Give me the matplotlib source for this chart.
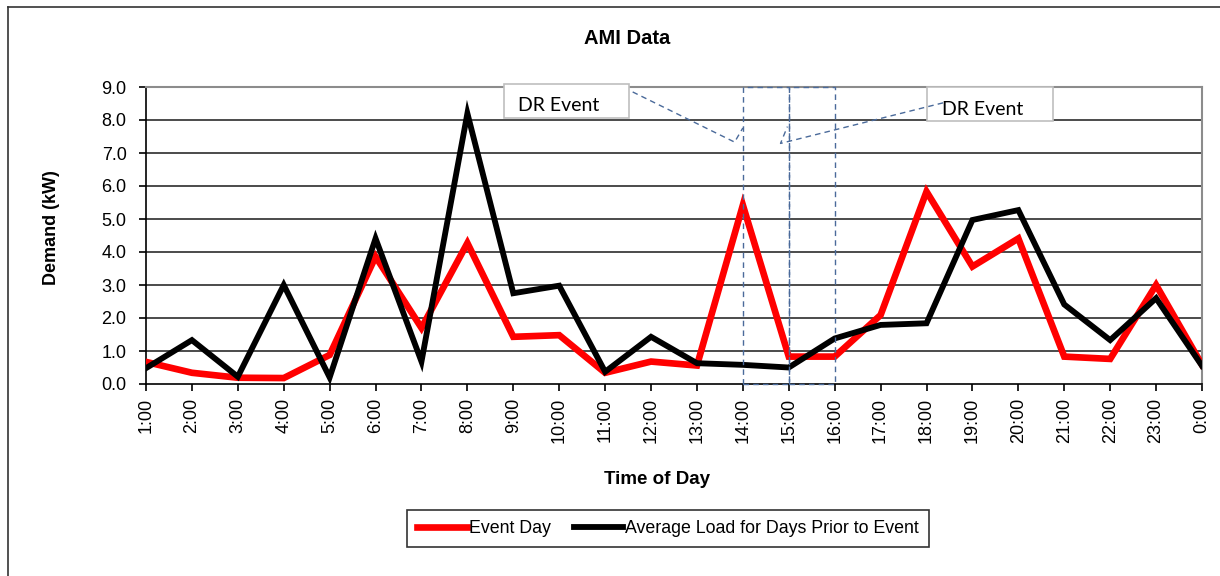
import matplotlib
matplotlib.use("Agg")
import matplotlib.pyplot as plt
from matplotlib.lines import Line2D
from matplotlib.patches import Rectangle

hours = ["1:00", "2:00", "3:00", "4:00", "5:00", "6:00", "7:00", "8:00", "9:00", "10:00",
         "11:00", "12:00", "13:00", "14:00", "15:00", "16:00", "17:00", "18:00", "19:00",
         "20:00", "21:00", "22:00", "23:00", "0:00"]
event_day = [0.67, 0.34, 0.19, 0.18, 0.88, 3.86, 1.70, 4.27, 1.43, 1.48, 0.34, 0.68,
             0.56, 5.42, 0.83, 0.83, 2.09, 5.83, 3.56, 4.41, 0.83, 0.76, 3.00, 0.58]
avg_prior = [0.48, 1.33, 0.22, 3.00, 0.20, 4.41, 0.68, 8.20, 2.75, 2.98, 0.37, 1.43,
             0.63, 0.58, 0.50, 1.38, 1.79, 1.84, 4.97, 5.27, 2.41, 1.33, 2.60, 0.55]
y_ticks = [0, 1, 2, 3, 4, 5, 6, 7, 8, 9]
event_windows = [("14:00", "15:00"), ("15:00", "16:00")]

FONT = ["Liberation Sans", "DejaVu Sans"]
plt.rcParams["font.family"] = FONT

fig = plt.figure(figsize=(12.2, 5.76), dpi=100)
ax = fig.add_axes([146 / 1220, 1 - 384 / 576, (1202 - 146) / 1220, (384 - 87) / 576])

x = list(range(len(hours)))
ax.plot(x, event_day, color="#ff0000", lw=4.8, solid_joinstyle="miter", zorder=3,
        label="Event Day")
ax.plot(x, avg_prior, color="#000000", lw=4.2, solid_joinstyle="miter", zorder=4,
        label="Average Load for Days Prior to Event")

ax.set_xlim(0, len(hours) - 1)
ax.set_ylim(0, 9)
ax.set_xticks(x)
ax.set_xticklabels(hours, rotation=90, fontsize=13)
ax.set_yticks(y_ticks)
ax.set_yticklabels([f"{v:.1f}" for v in y_ticks], fontsize=13)
ax.tick_params(axis="x", direction="out", length=5, width=1.2, pad=5)
ax.tick_params(axis="y", direction="out", length=5, width=1.2, pad=9)

for v in y_ticks[1:-1]:
    ax.axhline(v, color="#1a1a1a", lw=1.1, zorder=1)

ax.spines["left"].set_color("black")
ax.spines["left"].set_linewidth(1.2)
ax.spines["bottom"].set_color("black")
ax.spines["bottom"].set_linewidth(1.2)
ax.spines["top"].set_color("#8c8c8c")
ax.spines["top"].set_linewidth(1.5)
ax.spines["right"].set_color("#8c8c8c")
ax.spines["right"].set_linewidth(1.5)

# DR event windows (dashed rectangles)
dash_col = "#4a6a9a"
for a, b in event_windows:
    i0, i1 = hours.index(a), hours.index(b)
    ax.add_patch(Rectangle((i0, 0), i1 - i0, 9, fill=False, ec=dash_col, lw=1.0,
                           ls=(0, (4, 3)), zorder=5, clip_on=False))

# Callout boxes
callouts = [
    dict(box=(7.79, 8.06, 2.72, 1.03), text=(8.1, 8.43),
         line=[(10.6, 8.85), (12.82, 7.33), (13.0, 7.76)]),
    dict(box=(17.01, 7.97, 2.75, 1.03), text=(17.33, 8.33),
         line=[(17.36, 8.52), (13.82, 7.29), (13.97, 7.80)]),
]
for c in callouts:
    bx, by, bw, bh = c["box"]
    ax.add_patch(Rectangle((bx, by), bw, bh, fc="white", ec="#bfbfbf", lw=1.2,
                           zorder=6, clip_on=False))
    xs, ys = zip(*c["line"])
    ax.plot(xs, ys, color=dash_col, lw=1.0, ls=(0, (4, 3)), zorder=7, clip_on=False)
    ax.text(c["text"][0], c["text"][1], "DR Event", fontsize=14,
            family=["Lato", "DejaVu Sans"], va="center", ha="left", zorder=8)

# Titles and labels
fig.text(627 / 1220, 1 - 38 / 576, "AMI Data", ha="center", va="center",
         fontsize=14.5, fontweight="bold")
fig.text(657 / 1220, 1 - 480 / 576, "Time of Day", ha="center", va="center",
         fontsize=13.5, fontweight="bold")
fig.text(52 / 1220, 1 - 228 / 576, "Demand (kW)", ha="center", va="center",
         rotation=90, fontsize=13, fontweight="bold")

leg = fig.legend(loc="center", bbox_to_anchor=(668 / 1220, 1 - 528.5 / 576), ncol=2,
                 fontsize=12.8, frameon=True, fancybox=False, handlelength=2.8,
                 handletextpad=0.1, columnspacing=1.3, borderpad=0.55)
leg.get_frame().set_edgecolor("black")
leg.get_frame().set_linewidth(1.2)

# Outer chart-area border (left and top edges visible)
fig.add_artist(Line2D([8 / 1220, 8 / 1220], [0, 1 - 7 / 576], transform=fig.transFigure,
                      color="#333333", lw=1.2))
fig.add_artist(Line2D([8 / 1220, 1], [1 - 7 / 576, 1 - 7 / 576], transform=fig.transFigure,
                      color="#333333", lw=1.2))

fig.savefig("out.png", dpi=100)
